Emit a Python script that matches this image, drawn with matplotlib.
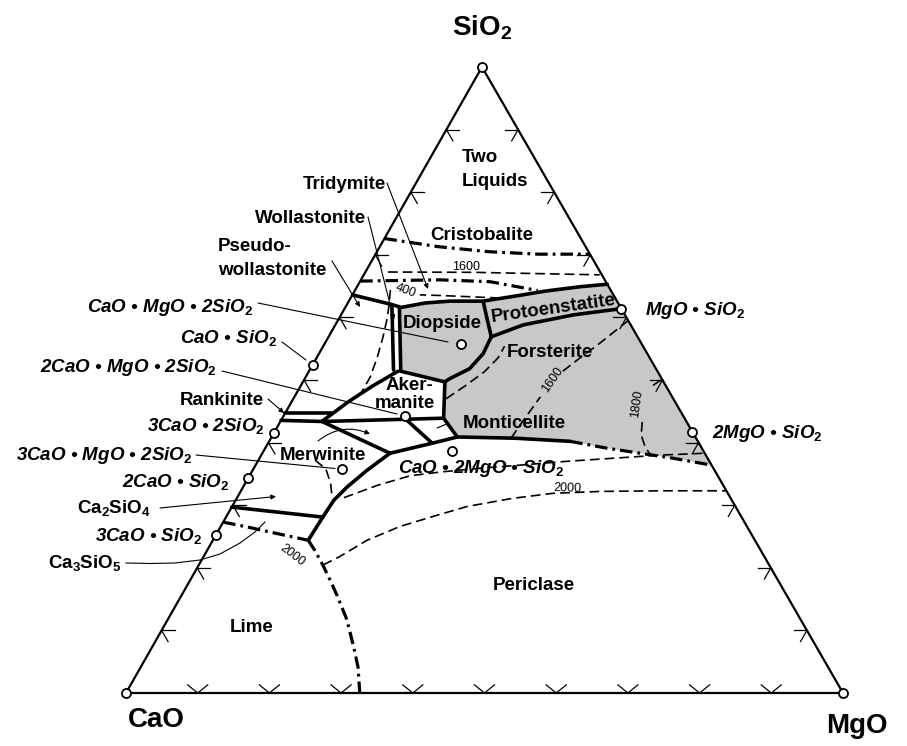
import numpy as np
import matplotlib
matplotlib.use('Agg')
import matplotlib.pyplot as plt
from matplotlib.patches import Polygon

plt.rcParams['font.family'] = ['Liberation Sans', 'DejaVu Sans']
plt.rcParams['mathtext.fontset'] = 'custom'
plt.rcParams['mathtext.rm'] = 'Liberation Sans:bold'
plt.rcParams['mathtext.it'] = 'Liberation Sans:bold:italic'
plt.rcParams['mathtext.bf'] = 'Liberation Sans:bold'
plt.rcParams['mathtext.default'] = 'rm'
plt.rcParams['lines.scale_dashes'] = False

# ---------------- data: compositions in wt% as (SiO2, MgO); CaO = rest -------------
cmp_names = ['SiO2', 'CaO', 'MgO', 'MgO.SiO2', '2MgO.SiO2', 'CaO.SiO2', '3CaO.2SiO2',
             '2CaO.SiO2', '3CaO.SiO2', 'Diopside', 'Akermanite', 'Merwinite', 'Monticellite']
cmp_sio2 = [100, 0, 0, 61.4, 41.7, 52.4, 41.6, 34.4, 25.2, 55.7, 44.3, 35.8, 38.6]
cmp_mgo = [0, 0, 100, 38.6, 58.3, 0, 0, 0, 0, 19.0, 16.9, 12.4, 26.3]

# solid field boundaries
top_boundary = [(63.6, 0), (62.1, 6.1), (61.6, 7.8), (62.3, 10.8), (62.6, 14.1), (62.6, 18.7),
                (63.4, 22.8), (64.2, 26.6), (64.9, 31.1), (65.3, 34.7)]
double_left = [(61.5, 6.56), (51.6, 11.69)]
double_right = [(61.5, 7.6), (51.4, 12.8)]
wo_ak = [(51.4, 12.4), (49.0, 10.0), (46.5, 7.9), (43.4, 5.8)]
ak_di = [(51.4, 12.8), (49.7, 19.8)]
di_fo = [(49.7, 19.8), (50.2, 20.2), (51.8, 22.2), (54.2, 22.9), (56.9, 22.7)]
di_pen = [(62.5, 18.8), (59.6, 20.8), (56.9, 22.7)]
pen_fo = [(56.9, 22.7), (58.8, 26.2), (60.4, 32.4), (61.4, 38.6)]
mont_left = [(49.7, 19.8), (43.9, 22.5), (40.9, 25.9)]
ak_bottom = [(43.55, 0), (43.37, 5.95), (43.9, 22.5)]
rank_upper = [(44.65, 0), (44.65, 6.6)]
mer_top = [(43.37, 5.8), (38.3, 17.8)]
mer_right = [(38.3, 17.8), (39.9, 22.9), (40.9, 25.9)]
ak_mer = [(43.74, 17.3), (39.9, 22.9)]
mont_per = [(40.9, 25.9), (40.7, 34.1), (40.2, 42.0)]
c2s_per = [(38.3, 17.8), (35.5, 15.9), (32.9, 14.5), (30.8, 13.7), (28.1, 13.5), (24.4, 13.3)]
c2s_line = [(29.7, 0), (28.1, 13.5)]

# dash-dot boundaries
fo_per_dd = [(40.2, 42.0), (39.1, 47.7), (38.3, 52.7), (37.5, 57.7), (36.4, 63.6)]
c3s_dd = [(27.3, 0), (26.5, 3.85), (25.9, 6.5), (25.2, 9.65), (24.4, 13.3)]
lime_per_dd = [(24.4, 13.3), (22.8, 15.0), (20.45, 17.3), (18.05, 19.5), (15.3, 21.95),
               (11.7, 25.0), (7.35, 28.1), (4.15, 30.3), (0, 32.6)]
two_liq_dd = [(72.6, 0), (71.3, 8.15), (70.5, 15.5), (70.1, 22.7), (70.1, 29.9)]
trid_crist_dd = [(65.8, 0), (65.9, 5.5), (66.0, 11.0), (65.7, 18.15), (64.3, 25.5)]

# dashed isotherms
iso1600_top = [(67.25, 3.15), (67.2, 15.05), (66.8, 32.9)]
iso1400_a = [(63.1, 20.8), (63.3, 16.5), (63.5, 12.3), (63.6, 9.4)]
iso1400_b = [(64.4, 4.9), (62.0, 5.9), (59.9, 6.7), (56.9, 7.6), (53.7, 8.4), (50.5, 9.0), (47.9, 9.0)]
iso_mer = [(37.2, 7.9), (35.8, 10.1), (33.5, 11.9), (31.3, 13.2)]
iso_per_up = [(31.2, 14.9), (33.2, 18.65), (34.7, 22.4), (35.3, 26.3), (35.9, 31.5), (36.4, 36.9),
              (37.0, 43.0), (37.5, 49.3), (38.0, 55.6), (38.3, 61.7)]
iso2000 = [(20.45, 17.33), (21.8, 19.0), (24.4, 21.5), (26.6, 25.0), (28.2, 28.8), (29.8, 32.8),
           (31.1, 38.5), (31.9, 43.7), (32.2, 50.1), (32.3, 58.5), (32.3, 67.7)]
iso1600_fo_a = [(40.7, 33.5), (42.8, 33.7), (47.3, 34.3)]
iso1600_fo_b = [(51.4, 35.4), (52.7, 36.2), (55.9, 38.35), (59.5, 40.5)]
iso_fo_b = [(47.0, 21.3), (49.0, 22.9), (51.3, 24.5), (53.5, 25.3), (55.4, 25.3)]
iso1800_a = [(50.0, 49.8), (48.7, 48.75)]
iso1800_b = [(43.3, 50.5), (41.2, 51.4), (39.3, 52.9), (37.9, 54.4)]

tick_values = [10, 20, 30, 40, 50, 60, 70, 80, 90]

# ---------------- geometry -------------
K = 0.4965


def tern(pts):
    a = np.asarray(pts, float)
    return a[:, 1] + K * a[:, 0], a[:, 0]


W, H = 907, 746
fig = plt.figure(figsize=(W / 100, H / 100), dpi=100)
ax = fig.add_axes([0, 0, 1, 1])
ax.set_xlim(-126 / 7.17, (W - 126) / 7.17)
ax.set_ylim(-(H - 693) / 6.26, 693 / 6.26)
ax.axis('off')


def P(px, py):
    return (px / W, 1 - py / H)


GRAY = '#c8c8c8'
SOLID = dict(color='black', lw=2.6, solid_capstyle='round', solid_joinstyle='round', zorder=3)
DD = dict(color='black', lw=2.3, linestyle=(0, (9, 3.6, 2, 3.6)), zorder=3)
DASH = dict(color='black', lw=1.2, linestyle=(0, (7, 3.6)), zorder=3)

# shaded fields
shade = np.vstack([np.array(top_boundary[2:]), np.array(fo_per_dd[::-1]), np.array(mont_per[::-1][1:]),
                   np.array(mont_left[::-1][1:]), np.array(ak_di[::-1][1:]), np.array(double_right[::-1][1:])])
sx, sy = tern(shade)
ax.add_patch(Polygon(np.column_stack([sx, sy]), closed=True, facecolor=GRAY, edgecolor='none', zorder=1))

# triangle
tx, ty = tern([(0, 0), (0, 100), (100, 0), (0, 0)])
ax.plot(tx, ty, color='black', lw=1.6, zorder=4)

# ticks
L = 1.8
for v in tick_values:
    for seg in ([(v, 0), (v, L)], [(v, 0), (v - L, L)],
                [(v, 100 - v), (v, 100 - v - L)], [(v, 100 - v), (v - L, 100 - v)]):
        x, y = tern(seg)
        ax.plot(x, y, color='black', lw=0.9, zorder=4)
    ax.plot([v - 1.4, v, v + 1.4], [1.3, 0, 1.3], color='black', lw=0.9, zorder=4)

for line in [top_boundary, double_left, double_right, wo_ak, ak_di, di_fo, di_pen, pen_fo, mont_left,
             ak_bottom, rank_upper, mer_top, mer_right, ak_mer, mont_per, c2s_per, c2s_line]:
    x, y = tern(line)
    ax.plot(x, y, **SOLID)
for line in [fo_per_dd, c3s_dd, lime_per_dd, two_liq_dd, trid_crist_dd]:
    x, y = tern(line)
    ax.plot(x, y, **DD)
for line in [iso1600_top, iso1400_a, iso1400_b, iso_mer, iso_per_up, iso2000, iso1600_fo_a,
             iso1600_fo_b, iso_fo_b, iso1800_a, iso1800_b]:
    x, y = tern(line)
    ax.plot(x, y, **DASH)

# compound points
cx, cy = tern(list(zip(cmp_sio2, cmp_mgo)))
ax.plot(cx, cy, 'o', ms=6.5, mfc='white', mec='black', mew=1.3, zorder=6)

# leader lines
def leader(p0, p1, head=False):
    ax.annotate('', xy=P(*p1), xytext=P(*p0), xycoords='axes fraction', textcoords='axes fraction',
                arrowprops=dict(arrowstyle='-|>' if head else '-', lw=0.8, color='black',
                                shrinkA=0, shrinkB=0, mutation_scale=7), zorder=5)


leader((258, 303), (448, 342))
leader((282, 342), (306, 360))
leader((222, 371), (397, 414))
leader((268, 399), (284, 413), True)
leader((196, 455), (335, 468.5))
leader((160, 508), (276, 496.5), True)
leader((332, 261), (360, 307), True)
leader((368, 217), (394, 320), True)
leader((387, 183), (428, 289), True)
leader((449, 423), (437, 428))
ax.annotate('', xy=P(370, 434), xytext=P(318, 441), xycoords='axes fraction', textcoords='axes fraction',
            arrowprops=dict(arrowstyle='-|>', lw=0.8, color='black', shrinkA=0, shrinkB=0,
                            mutation_scale=7, connectionstyle='arc3,rad=-0.3'), zorder=5)
c3 = [(126, 563), (150, 563.5), (175, 563), (200, 560), (220, 554), (240, 543), (255, 532), (265, 522)]
ax.plot([P(*p)[0] for p in c3], [P(*p)[1] for p in c3], color='black', lw=0.8,
        transform=ax.transAxes, zorder=5)

# text
def txt(s, px, py, size=13.5, ha='left', style='normal', weight='bold', rot=0, va='baseline'):
    ax.text(*P(px, py), s, transform=ax.transAxes, ha=ha, va=va, fontsize=size, fontstyle=style,
            fontweight=weight, rotation=rot, rotation_mode='anchor', zorder=7)


for s, x, y in [('Two', 462, 162), ('Liquids', 462, 186), ('Cristobalite', 430, 240),
                ('Tridymite', 303, 189), ('Wollastonite', 255, 223), ('Pseudo-', 218, 251),
                ('wollastonite', 218, 275), ('Diopside', 403, 328), ('Forsterite', 507, 357),
                ('Monticellite', 463, 428), ('Merwinite', 280, 460), ('Periclase', 493, 590),
                ('Lime', 230, 632), ('Rankinite', 180, 405), ('Ca$_2$SiO$_4$', 77, 513),
                ('Ca$_3$SiO$_5$', 48, 568)]:
    txt(s, x, y)
txt('Aker-', 409, 390, ha='center')
txt('manite', 405, 408, ha='center')
txt('Protoenstatite', 492, 322, rot=8)

sub2 = r'$_{\mathit{2}}$'
for s, x, y, ha in [('CaO • MgO • 2SiO' + sub2, 253, 312, 'right'), ('CaO • SiO' + sub2, 277, 343.5, 'right'),
                    ('2CaO • MgO • 2SiO' + sub2, 217, 372, 'right'), ('3CaO • 2SiO' + sub2, 265, 431.5, 'right'),
                    ('3CaO • MgO • 2SiO' + sub2, 192, 460, 'right'), ('2CaO • SiO' + sub2, 230, 487, 'right'),
                    ('3CaO • SiO' + sub2, 202, 541, 'right'), ('MgO • SiO' + sub2, 645, 315, 'left'),
                    ('2MgO • SiO' + sub2, 712, 438, 'left'), ('CaO • 2MgO • SiO' + sub2, 398, 473, 'left')]:
    txt(s, x, y, ha=ha, style='italic')

txt('SiO$_2$', 482, 35, size=20, ha='center')
txt('CaO', 128, 727, size=20)
txt('MgO', 826, 733, size=20)

for s, x, y, r in [('1600', 466, 267, 0), ('400', 406, 291, -20), ('1600', 553, 380, 55),
                   ('1800', 637, 404, 82), ('2000', 567, 488, -2), ('2000', 292, 555, -38)]:
    txt(s, x, y, size=9, ha='center', weight='normal', rot=r, va='center')

fig.savefig('out.png', dpi=100)
